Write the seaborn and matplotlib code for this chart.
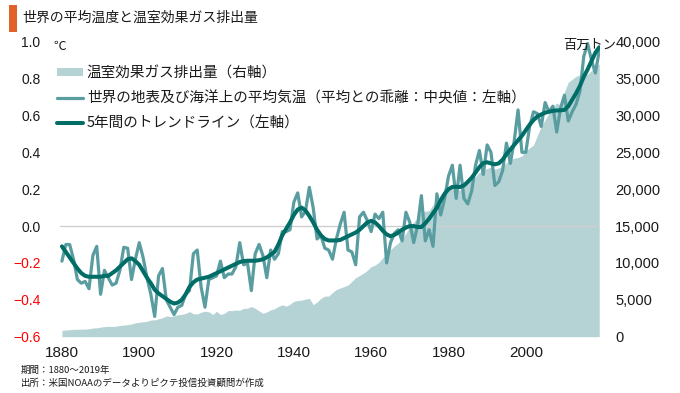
import numpy as np
import pandas as pd
import matplotlib
matplotlib.use("Agg")
import matplotlib.pyplot as plt
import seaborn as sns
from matplotlib.patches import Patch, Rectangle
from matplotlib.lines import Line2D

# ---- data ----
years = list(range(1880, 2020))

# global land+ocean temperature anomaly (C), annual
temp_annual = [
    -0.19, -0.10, -0.10, -0.18, -0.29, -0.31, -0.30, -0.34, -0.16, -0.11,  # 1880s
    -0.37, -0.24, -0.28, -0.32, -0.31, -0.24, -0.115, -0.12, -0.29, -0.18,  # 1890s
    -0.09, -0.17, -0.28, -0.37, -0.49, -0.27, -0.23, -0.40, -0.44, -0.48,  # 1900s
    -0.44, -0.43, -0.37, -0.35, -0.15, -0.13, -0.33, -0.44, -0.29, -0.28,  # 1910s
    -0.27, -0.19, -0.28, -0.26, -0.26, -0.22, -0.09, -0.21, -0.20, -0.35,  # 1920s
    -0.15, -0.10, -0.16, -0.28, -0.13, -0.18, -0.15, -0.03, -0.03, -0.02,  # 1930s
    0.13, 0.18, 0.05, 0.08, 0.21, 0.10, -0.07, -0.05, -0.12, -0.13,        # 1940s
    -0.18, -0.07, 0.01, 0.075, -0.13, -0.14, -0.21, 0.05, 0.075, 0.03,     # 1950s
    -0.03, 0.065, 0.04, 0.075, -0.20, -0.09, -0.04, -0.02, -0.08, 0.075,   # 1960s
    0.02, -0.09, 0.0, 0.165, -0.08, -0.02, -0.11, 0.175, 0.06, 0.15,       # 1970s
    0.27, 0.33, 0.15, 0.33, 0.15, 0.12, 0.19, 0.33, 0.41, 0.28,            # 1980s
    0.44, 0.40, 0.22, 0.24, 0.30, 0.45, 0.34, 0.46, 0.63, 0.40,            # 1990s
    0.40, 0.54, 0.62, 0.61, 0.54, 0.67, 0.62, 0.65, 0.51, 0.64,            # 2000s
    0.71, 0.57, 0.62, 0.66, 0.73, 0.92, 0.99, 0.90, 0.83, 0.95,            # 2010s
]

# 5-year trend line (C)
temp_trend = [
    -0.11, -0.14, -0.17, -0.20, -0.23, -0.255, -0.27, -0.275, -0.275, -0.275,
    -0.275, -0.27, -0.27, -0.255, -0.24, -0.22, -0.20, -0.18, -0.175, -0.19,
    -0.21, -0.245, -0.28, -0.31, -0.345, -0.365, -0.38, -0.395, -0.41, -0.42,
    -0.415, -0.40, -0.37, -0.33, -0.305, -0.29, -0.285, -0.28, -0.275, -0.265,
    -0.255, -0.245, -0.235, -0.225, -0.215, -0.205, -0.195, -0.19, -0.188, -0.188,
    -0.188, -0.185, -0.18, -0.17, -0.155, -0.14, -0.10, -0.05, -0.015, 0.02,
    0.06, 0.09, 0.10, 0.085, 0.055, 0.02, -0.02, -0.05, -0.07, -0.078,
    -0.078, -0.078, -0.075, -0.065, -0.055, -0.045, -0.035, -0.02, 0.0, 0.02,
    0.028, 0.02, 0.0, -0.025, -0.045, -0.055, -0.048, -0.035, -0.02, -0.008,
    0.0, 0.0, -0.005, -0.005, 0.015, 0.04, 0.07, 0.10, 0.14, 0.175,
    0.20, 0.212, 0.213, 0.212, 0.22, 0.24, 0.262, 0.29, 0.32, 0.342,
    0.346, 0.34, 0.335, 0.34, 0.36, 0.39, 0.415, 0.44, 0.465, 0.49,
    0.52, 0.55, 0.575, 0.595, 0.605, 0.615, 0.62, 0.625, 0.627, 0.628,
    0.63, 0.65, 0.685, 0.72, 0.76, 0.81, 0.85, 0.895, 0.94, 0.97,
]

# greenhouse gas emissions (million tonnes)
emissions = [
    850, 900, 950, 1000, 1010, 1020, 1030, 1080, 1180, 1200,
    1300, 1370, 1400, 1380, 1430, 1530, 1570, 1640, 1730, 1880,
    1950, 2020, 2080, 2270, 2280, 2430, 2560, 2820, 2720, 2830,
    2970, 3020, 3160, 3410, 3120, 3080, 3320, 3450, 3370, 3010,
    3450, 3000, 3170, 3550, 3540, 3620, 3580, 3840, 3870, 4100,
    3850, 3500, 3170, 3370, 3640, 3800, 4100, 4330, 4130, 4400,
    4800, 4900, 4950, 5100, 5200, 4350, 4700, 5200, 5500, 5500,
    6000, 6400, 6600, 6800, 7000, 7500, 8000, 8300, 8600, 9000,
    9500, 9700, 10100, 10700, 11200, 11800, 12300, 12700, 13300, 14000,
    15000, 15500, 16200, 17000, 17000, 17100, 17900, 18500, 19200, 20000,
    20300, 20000, 19800, 19900, 20500, 20900, 21200, 21700, 22300, 22600,
    22800, 23000, 22700, 22900, 23100, 23600, 24000, 24200, 24300, 24500,
    25200, 25600, 26000, 27300, 28500, 29400, 30300, 31100, 31700, 31400,
    33200, 34500, 34900, 35300, 35500, 35500, 35600, 36100, 36700, 37000,
]

x_ticks = [1880, 1900, 1920, 1940, 1960, 1980, 2000]
left_ticks = [-0.6, -0.4, -0.2, 0.0, 0.2, 0.4, 0.6, 0.8, 1.0]
right_ticks = list(range(0, 40001, 5000))

legend_labels = [
    "温室効果ガス排出量（右軸）",
    "世界の地表及び海洋上の平均気温（平均との乖離：中央値：左軸）",
    "5年間のトレンドライン（左軸）",
]

df = pd.DataFrame({"year": years, "annual": temp_annual,
                   "trend": temp_trend, "emis": emissions})

# colours
c_area = "#b5d3d5"
c_annual = "#5a9da1"
c_trend = "#006d67"

sns.set_theme(style="white")
jp = ["Noto Sans CJK JP", "DejaVu Sans"]
num_font = ["Liberation Sans", "DejaVu Sans"]
plt.rcParams["font.family"] = jp
plt.rcParams["axes.unicode_minus"] = True

W, H = 680, 393
fig = plt.figure(figsize=(W / 100, H / 100), dpi=100)
ax_l, ax_r, ax_t, ax_b = 60, 600, 41.7, 336.7
ax1 = fig.add_axes([ax_l / W, 1 - ax_b / H, (ax_r - ax_l) / W, (ax_b - ax_t) / H])
ax2 = ax1.twinx()

# emissions area on the right axis (drawn behind)
ax2.fill_between(df["year"], 0, df["emis"], color=c_area, lw=0)
ax2.set_ylim(0, 40000)

# temperature lines on the left axis (drawn on top)
ax1.set_zorder(ax2.get_zorder() + 1)
ax1.patch.set_visible(False)
ax1.axhline(0, color="#cfcfcf", lw=1, zorder=1)
sns.lineplot(data=df, x="year", y="annual", ax=ax1, color=c_annual, lw=2.3, zorder=3)
sns.lineplot(data=df, x="year", y="trend", ax=ax1, color=c_trend, lw=2.9, zorder=4)
ax1.set_ylim(-0.6, 1.0)
ax1.set_xlim(1879.5, 2019.2)

# axes cosmetics
for a in (ax1, ax2):
    for s in a.spines.values():
        s.set_visible(False)
    a.set_xlabel("")
    a.set_ylabel("")
    a.grid(False)

ax1.set_xticks(x_ticks)
ax1.set_xticklabels([str(v) for v in x_ticks], fontsize=11, family=num_font)
ax1.set_yticks(left_ticks)
ax1.set_yticklabels([f"{v:.1f}".replace("-", "\u2212") for v in left_ticks],
                    fontsize=10, family=num_font)
for lab, v in zip(ax1.get_yticklabels(), left_ticks):
    lab.set_color("#ff0000" if v < 0 else "#1a1a1a")
ax1.tick_params(axis="x", length=0, pad=7, colors="#1a1a1a")
ax1.tick_params(axis="y", length=0, pad=14)

ax2.set_yticks(right_ticks)
ax2.set_yticklabels([f"{v:,}" for v in right_ticks], fontsize=10.5, family=num_font)
ax2.tick_params(axis="y", length=0, pad=11, colors="#1a1a1a")

# unit labels
fig.text(53 / W, 1 - 46 / H, "℃", fontsize=9, va="center", ha="left", color="#1a1a1a")
fig.text(616 / W, 1 - 45 / H, "百万トン", fontsize=9.5, va="center", ha="right", color="#1a1a1a")

# title with orange marker
fig.patches.append(Rectangle((9 / W, 1 - 32 / H), 8 / W, 27 / H, transform=fig.transFigure,
                             color="#e0622a", lw=0))
fig.text(22 / W, 1 - 18 / H, "世界の平均温度と温室効果ガス排出量", fontsize=10,
         va="center", ha="left", color="#1a1a1a")

# legend
handles = [Patch(facecolor=c_area, edgecolor="none"),
           Line2D([], [], color=c_annual, lw=2.3),
           Line2D([], [], color=c_trend, lw=2.9)]
leg = ax1.legend(handles, legend_labels, loc="upper left",
                 bbox_to_anchor=(57 / W, 1 - 66 / H), bbox_transform=fig.transFigure,
                 frameon=False, fontsize=10.5, handlelength=1.75, handleheight=0.55,
                 handletextpad=0.3, labelspacing=0.76, borderpad=0, borderaxespad=0)
for t in leg.get_texts():
    t.set_color("#1a1a1a")

# footnotes
fig.text(21 / W, 1 - 370 / H, "期間：1880～2019年", fontsize=6.8, va="center", ha="left", color="#1a1a1a")
fig.text(21 / W, 1 - 383 / H, "出所：米国NOAAのデータよりピクテ投信投資顧問が作成", fontsize=6.8,
         va="center", ha="left", color="#1a1a1a")

fig.savefig("out.png", dpi=100)
